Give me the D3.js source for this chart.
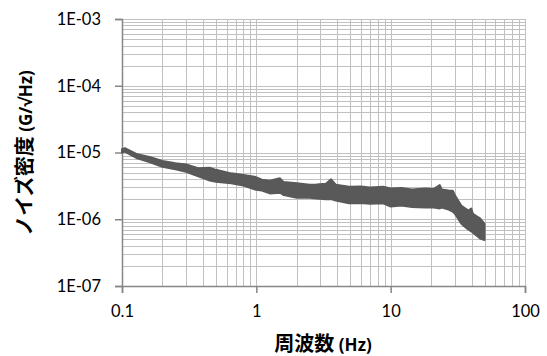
<!DOCTYPE html>
<html>
<head>
<meta charset="utf-8">
<script src="https://cdn.jsdelivr.net/npm/d3@7"></script>
<style>
  html, body { margin: 0; padding: 0; background: #fff; }
  svg { display: block; }
  .tick-label { font-family: Lato, "Open Sans", sans-serif; font-size: 16.5px; fill: #000; }
  .axis-title { font-family: "Noto Sans CJK JP", sans-serif; font-weight: bold; fill: #000; }
</style>
</head>
<body>
<svg id="chart" width="547" height="356"></svg>
<script>
// Data (noise density band: upper / lower edges)
const freq  = [0.1, 0.105, 0.13, 0.16, 0.2, 0.25, 0.3, 0.37, 0.45, 0.5, 0.65, 0.8, 0.97, 1.1, 1.26, 1.5, 1.6, 2.0, 2.5, 2.8, 3.3, 3.6, 3.9, 4.9, 6, 7, 8.8, 10, 12, 14.4, 18, 21, 23.2, 24, 27, 29, 30, 33.5, 36, 38, 39.8, 41, 44, 46.3, 50];
const upper = [1.12e-5, 1.16e-5, 9.4e-6, 8.6e-6, 7.45e-6, 6.9e-6, 6.6e-6, 5.8e-6, 5.9e-6, 5.5e-6, 4.87e-6, 4.6e-6, 4.33e-6, 3.9e-6, 3.77e-6, 4.1e-6, 3.6e-6, 3.45e-6, 3.3e-6, 3.33e-6, 3.4e-6, 3.96e-6, 3.3e-6, 3.06e-6, 3.1e-6, 3.0e-6, 3.06e-6, 2.9e-6, 2.95e-6, 2.8e-6, 2.9e-6, 2.85e-6, 3.25e-6, 2.8e-6, 2.7e-6, 2.67e-6, 2.3e-6, 1.6e-6, 1.45e-6, 1.35e-6, 1.45e-6, 1.2e-6, 1.1e-6, 1.03e-6, 8.5e-7];
const lower = [1.0e-5, 1.03e-5, 8.2e-6, 7.2e-6, 6.1e-6, 5.6e-6, 5.15e-6, 4.4e-6, 3.8e-6, 3.65e-6, 3.45e-6, 3.2e-6, 2.8e-6, 2.7e-6, 2.44e-6, 2.5e-6, 2.3e-6, 2.1e-6, 2.1e-6, 2.05e-6, 2.0e-6, 2.0e-6, 1.9e-6, 1.73e-6, 1.75e-6, 1.7e-6, 1.73e-6, 1.55e-6, 1.6e-6, 1.53e-6, 1.5e-6, 1.5e-6, 1.45e-6, 1.5e-6, 1.4e-6, 1.3e-6, 1.22e-6, 8.65e-7, 7.6e-7, 7.0e-7, 6.6e-7, 6.3e-7, 5.6e-7, 5.15e-7, 4.9e-7];

const xTicks = [0.1, 1, 10, 100];
const xTickLabels = ["0.1", "1", "10", "100"];
const yTicks = [1e-7, 1e-6, 1e-5, 1e-4, 1e-3];
const yTickLabels = ["1E-07", "1E-06", "1E-05", "1E-04", "1E-03"];

const m = {top: 19, right: 22, bottom: 70, left: 122};
const W = 547, H = 356;

const svg = d3.select("#chart");
const x = d3.scaleLog().domain([0.1, 100]).range([m.left, W - m.right]);
const y = d3.scaleLog().domain([1e-7, 1e-3]).range([H - m.bottom, m.top]);

// minor + major gridlines
const minorX = [], minorY = [];
for (let d = 0.1; d < 100; d *= 10) for (let k = 2; k <= 9; k++) minorX.push(d * k);
for (let d = 1e-7; d < 1e-3; d *= 10) for (let k = 2; k <= 9; k++) minorY.push(d * k);

const grid = svg.append("g").attr("shape-rendering", "crispEdges");
grid.selectAll(".gx").data(minorX.concat(xTicks)).join("line")
    .attr("x1", d => Math.round(x(d)) + 0.5).attr("x2", d => Math.round(x(d)) + 0.5)
    .attr("y1", y(1e-3)).attr("y2", y(1e-7))
    .attr("stroke", "#c0c0c0").attr("stroke-width", 1);
grid.selectAll(".gy").data(minorY.concat(yTicks)).join("line")
    .attr("x1", x(0.1)).attr("x2", x(100))
    .attr("y1", d => Math.round(y(d)) + 0.5).attr("y2", d => Math.round(y(d)) + 0.5)
    .attr("stroke", "#c0c0c0").attr("stroke-width", 1);

// axes
const xAxis = d3.axisBottom(x).tickValues(xTicks).tickFormat((d, i) => xTickLabels[i]).tickSizeOuter(0).tickSize(7).tickPadding(12);
const yAxis = d3.axisLeft(y).tickValues(yTicks).tickFormat((d, i) => yTickLabels[i]).tickSizeOuter(0).tickSize(7).tickPadding(14);

const gx = svg.append("g").attr("transform", `translate(0,${H - m.bottom})`).call(xAxis);
const gy = svg.append("g").attr("transform", `translate(${m.left},0)`).call(yAxis);
for (const g of [gx, gy]) {
    g.select(".domain").attr("stroke", "#868686").attr("stroke-width", 1.5);
    g.selectAll(".tick line").attr("stroke", "#868686").attr("stroke-width", 1.5);
    g.selectAll(".tick text").attr("class", "tick-label").attr("font-size", null).attr("font-family", null);
}

// noise band
const band = freq.map((f, i) => ({f, hi: upper[i], lo: lower[i]}));
svg.append("path")
    .datum(band)
    .attr("fill", "#595959")
    .attr("stroke", "#595959")
    .attr("stroke-width", 2)
    .attr("stroke-linejoin", "round")
    .attr("d", d3.area().x(d => x(d.f)).y0(d => y(d.lo)).y1(d => y(d.hi)));

// axis titles
const xt = svg.append("text").attr("class", "axis-title")
    .attr("x", 323).attr("y", 351).attr("text-anchor", "middle");
xt.append("tspan").attr("font-size", "20px").text("周波数 ");
xt.append("tspan").attr("font-size", "17px").attr("font-family", "'Open Sans', sans-serif").text("(Hz)");

const yt = svg.append("text").attr("class", "axis-title")
    .attr("transform", `translate(32,153) rotate(-90)`).attr("text-anchor", "middle");
yt.append("tspan").attr("font-size", "20px").text("ノイズ密度 ");
yt.append("tspan").attr("font-size", "17px").attr("font-family", "'Open Sans', sans-serif").text("(G/√Hz)");
</script>
</body>
</html>
